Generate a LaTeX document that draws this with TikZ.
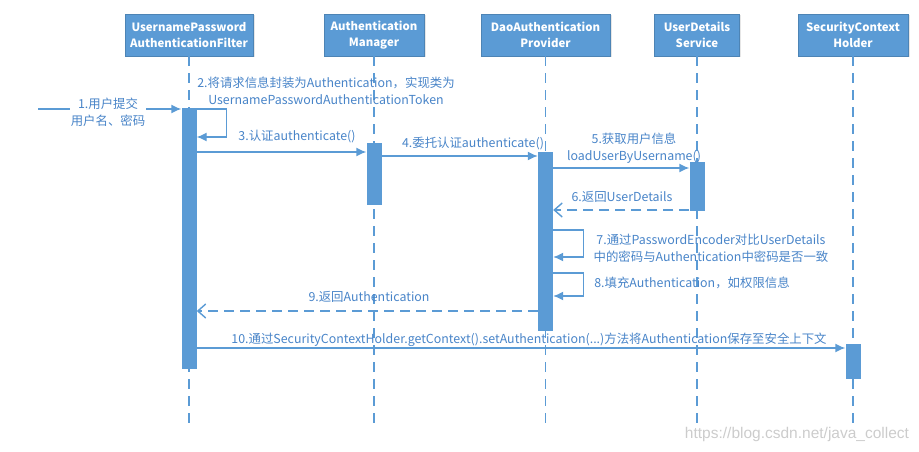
\documentclass[tikz,border=0pt]{standalone}
\usepackage{fontspec}
\setmainfont{Noto Sans CJK SC}
\newfontfamily\wmfont{Liberation Sans}
\usetikzlibrary{arrows.meta,shadows}
\definecolor{umlblue}{RGB}{91,155,213}
\definecolor{umltext}{RGB}{72,132,200}

\begin{document}
\begin{tikzpicture}[x=1pt,y=-1pt,>=Latex,
  head/.style={fill=umlblue,draw=umlblue!85!black,text=white,align=center,
    font=\bfseries\fontsize{11.4}{16}\selectfont,minimum height=42pt,inner sep=1pt,
    drop shadow={opacity=.2,shadow xshift=1.5pt,shadow yshift=-1.5pt}},
  life/.style={umlblue,line width=1.4pt,dash pattern=on 10pt off 7pt},
  bar/.style={fill=umlblue,draw=none,minimum width=15pt,inner sep=0pt},
  msg/.style={umlblue,line width=1.4pt,-{Latex[length=10pt,width=9pt]}},
  ret/.style={umlblue,line width=1.4pt,dash pattern=on 10pt off 6pt,
    -{Straight Barb[length=8pt,width=14pt,line width=1.4pt]}},
  lbl/.style={text=umltext,font=\fontsize{12.4}{17}\selectfont,align=center,inner sep=1pt}]
  \useasboundingbox (0,0) rectangle (919,452);
  % heads
  \node[head,minimum width=128pt] (filter) at (189,35) {UsernamePassword\\AuthenticationFilter};
  \node[head,minimum width=100pt] (manager) at (374,35) {Authentication\\Manager};
  \node[head,minimum width=129pt] (provider) at (545.5,35) {DaoAuthentication\\Provider};
  \node[head,minimum width=85pt] (uds) at (697,35) {UserDetails\\Service};
  \node[head,minimum width=110pt] (sch) at (853,35) {SecurityContext\\Holder};
  % lifelines
  \coordinate (bottom) at (0,430);
  \foreach \n in {filter,manager,provider,uds,sch}
    \draw[life] (\n.south) -- (\n.south |- bottom);
  % activation bars
  \node[bar,minimum height=261pt] (fbar) at (189,238.5) {};
  \node[bar,minimum height=62pt] (mbar) at (374,174) {};
  \node[bar,minimum height=179pt] (pbar) at (545.5,241.5) {};
  \node[bar,minimum height=49pt] (ubar) at (697,186.5) {};
  \node[bar,minimum height=35pt] (sbar) at (853,361.5) {};
  % message levels
  \coordinate (src) at (38,109);
  \coordinate (y2a) at (0,109);
  \coordinate (y2b) at (0,137);
  \coordinate (y3) at (0,152);
  \coordinate (y4) at (0,156);
  \coordinate (y5) at (0,168);
  \coordinate (y6) at (0,210);
  \coordinate (y7a) at (0,230);
  \coordinate (y7b) at (0,257);
  \coordinate (y8a) at (0,273);
  \coordinate (y8b) at (0,296);
  \coordinate (y9) at (0,311);
  \coordinate (y10) at (0,348);
  % messages
  \draw[msg] (src) -- (fbar.west |- src);
  \node[lbl,fill=white] (l1) at (108,112) {1.用户提交\\用户名、密码};
  \draw[msg] (fbar.east |- y2a) -- ++(30,0) |- (fbar.east |- y2b);
  \node[lbl] (l2) at (326,90.5) {2.将请求信息封装为Authentication，实现类为\\UsernamePasswordAuthenticationToken};
  \draw[msg] (fbar.east |- y3) -- (mbar.west |- y3);
  \node[lbl] (l3) at (297,137) {3.认证authenticate()};
  \draw[msg] (mbar.east |- y4) -- (pbar.west |- y4);
  \node[lbl] (l4) at (473,144) {4.委托认证authenticate()};
  \draw[msg] (pbar.east |- y5) -- (ubar.west |- y5);
  \node[lbl] (l5) at (634,148.5) {5.获取用户信息\\loadUserByUsername()};
  \draw[ret] (ubar.west |- y6) -- (pbar.east |- y6);
  \node[lbl] (l6) at (622,197) {6.返回UserDetails};
  \draw[msg] (pbar.east |- y7a) -- ++(30,0) |- (pbar.east |- y7b);
  \node[lbl] (l7) at (711,248.5) {7.通过PasswordEncoder对比UserDetails\\中的密码与Authentication中密码是否一致};
  \draw[msg] (pbar.east |- y8a) -- ++(30,0) |- (pbar.east |- y8b);
  \node[lbl] (l8) at (692,283) {8.填充Authentication，如权限信息};
  \draw[ret] (pbar.west |- y9) -- (fbar.east |- y9);
  \node[lbl] (l9) at (369,297) {9.返回Authentication};
  \draw[msg] (fbar.east |- y10) -- (sbar.west |- y10);
  \node[lbl] (l10) at (529,340) {10.通过SecurityContextHolder.getContext().setAuthentication(...)方法将Authentication保存至安全上下文};
  % watermark
  \node[text=gray!40,font=\wmfont\fontsize{15.5}{15.5}\selectfont] (wm) at (797,434) {https://blog.csdn.net/java\_collect};
\end{tikzpicture}
\end{document}
